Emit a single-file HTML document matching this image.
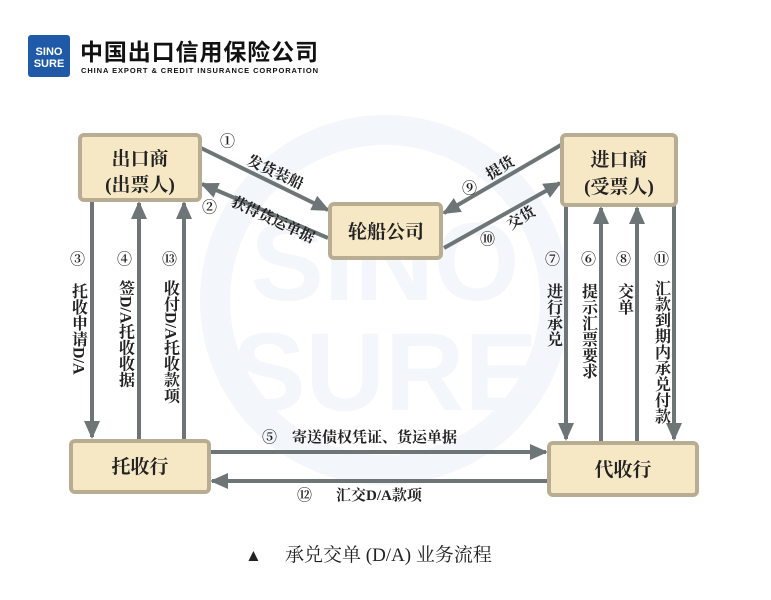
<!DOCTYPE html>
<html><head><meta charset="utf-8"><style>
body{margin:0;background:#fff;}
svg text{font-family:"Liberation Serif","Noto Serif CJK SC",serif;fill:#222;}
.v{writing-mode:vertical-rl;font-size:16px;font-weight:bold;}
</style></head><body>
<svg width="771" height="595" viewBox="0 0 771 595" xmlns="http://www.w3.org/2000/svg">
<defs>
<marker id="a" viewBox="0 0 18 16" markerWidth="18" markerHeight="16" refX="16" refY="8" orient="auto" markerUnits="userSpaceOnUse">
<path d="M0,0 L18,8 L0,16 z" fill="#6d7576"/></marker>
</defs>
<circle cx="385" cy="300" r="170" fill="none" stroke="#f3f6fa" stroke-width="30"/>
<text x="385" y="300" text-anchor="middle" style="font-family:'Liberation Sans',sans-serif;font-weight:bold;font-size:110px;fill:#f3f6fa">SINO</text>
<text x="385" y="410" text-anchor="middle" style="font-family:'Liberation Sans',sans-serif;font-weight:bold;font-size:110px;fill:#f3f6fa">SURE</text>
<rect x="28" y="35" width="42" height="42" rx="3" fill="#1f5aa8"/>
<text x="49" y="55" text-anchor="middle" style="font-family:'Liberation Sans',sans-serif;font-weight:bold;font-size:11px;fill:#fff">SINO</text>
<text x="49" y="67" text-anchor="middle" style="font-family:'Liberation Sans',sans-serif;font-weight:bold;font-size:11px;fill:#fff">SURE</text>
<text x="80" y="60" style="font-family:'Liberation Sans','Noto Sans CJK SC',sans-serif;font-weight:bold;font-size:23px;fill:#111" textLength="238">中国出口信用保险公司</text>
<text x="81" y="73" style="font-family:'Liberation Sans',sans-serif;font-weight:bold;font-size:7.5px;fill:#111" textLength="237">CHINA EXPORT &amp; CREDIT INSURANCE CORPORATION</text>

<g stroke="#6d7576" stroke-width="4" fill="none">
<line x1="201" y1="148" x2="328" y2="210" marker-end="url(#a)"/>
<line x1="328" y1="238" x2="202" y2="184" marker-end="url(#a)"/>
<line x1="561" y1="145" x2="444" y2="213" marker-end="url(#a)"/>
<line x1="444" y1="248" x2="560" y2="183" marker-end="url(#a)"/>
<line x1="92" y1="202" x2="92" y2="437" marker-end="url(#a)"/>
<line x1="139" y1="440" x2="139" y2="203" marker-end="url(#a)"/>
<line x1="184" y1="440" x2="184" y2="203" marker-end="url(#a)"/>
<line x1="566" y1="205" x2="566" y2="439" marker-end="url(#a)"/>
<line x1="601" y1="441" x2="601" y2="208" marker-end="url(#a)"/>
<line x1="637" y1="441" x2="637" y2="208" marker-end="url(#a)"/>
<line x1="674" y1="205" x2="674" y2="439" marker-end="url(#a)"/>
<line x1="210" y1="452" x2="546" y2="452" marker-end="url(#a)"/>
<line x1="548" y1="481" x2="212" y2="481" marker-end="url(#a)"/>
</g>

<g fill="#f6e7c5" stroke="#b8ad92" stroke-width="4">
<rect x="80" y="135" width="120" height="65" rx="4"/>
<rect x="330" y="204" width="111" height="54" rx="4"/>
<rect x="562" y="135" width="114" height="70" rx="4"/>
<rect x="71" y="441" width="138" height="51" rx="4"/>
<rect x="549" y="443" width="148" height="52" rx="4"/>
</g>
<g font-weight="bold" font-size="19" text-anchor="middle">
<text x="140" y="165">出口商</text>
<text x="140" y="191">(出票人)</text>
<text x="386" y="238">轮船公司</text>
<text x="619" y="166">进口商</text>
<text x="619" y="193">(受票人)</text>
<text x="140" y="473">托收行</text>
<text x="623" y="476">代收行</text>
</g>
<g font-size="15" font-weight="bold">
<text x="220" y="146">①</text>
<text x="246" y="164" transform="rotate(25 246 164)">发货装船</text>
<text x="202" y="212">②</text>
<text x="230" y="205" transform="rotate(25 230 205)">获得货运单据</text>
<text x="462" y="193">⑨</text>
<text x="490" y="180" transform="rotate(-32 490 180)">提货</text>
<text x="480" y="244">⑩</text>
<text x="511" y="230" transform="rotate(-32 511 230)">交货</text>
<text x="70" y="264">③</text>
<text x="117" y="264">④</text>
<text x="162" y="264">⑬</text>
<text x="545" y="264">⑦</text>
<text x="581" y="264">⑥</text>
<text x="616" y="264">⑧</text>
<text x="654" y="264">⑪</text>
<text x="262" y="442">⑤</text>
<text x="292" y="442">寄送债权凭证、货运单据</text>
<text x="297" y="500">⑫</text>
<text x="336" y="500">汇交D/A款项</text>
</g>
<text class="v" x="78" y="283">托收申请D/A</text>
<text class="v" x="125" y="280">签D/A托收收据</text>
<text class="v" x="170" y="280">收付D/A托收款项</text>
<text class="v" x="553" y="283">进行承兑</text>
<text class="v" x="588" y="283">提示汇票要求</text>
<text class="v" x="624" y="283">交单</text>
<text class="v" x="661" y="280">汇款到期内承兑付款</text>
<text x="245" y="561" font-size="17">▲</text>
<text x="285" y="561" font-size="19">承兑交单 (D/A) 业务流程</text>
</svg>
</body></html>
